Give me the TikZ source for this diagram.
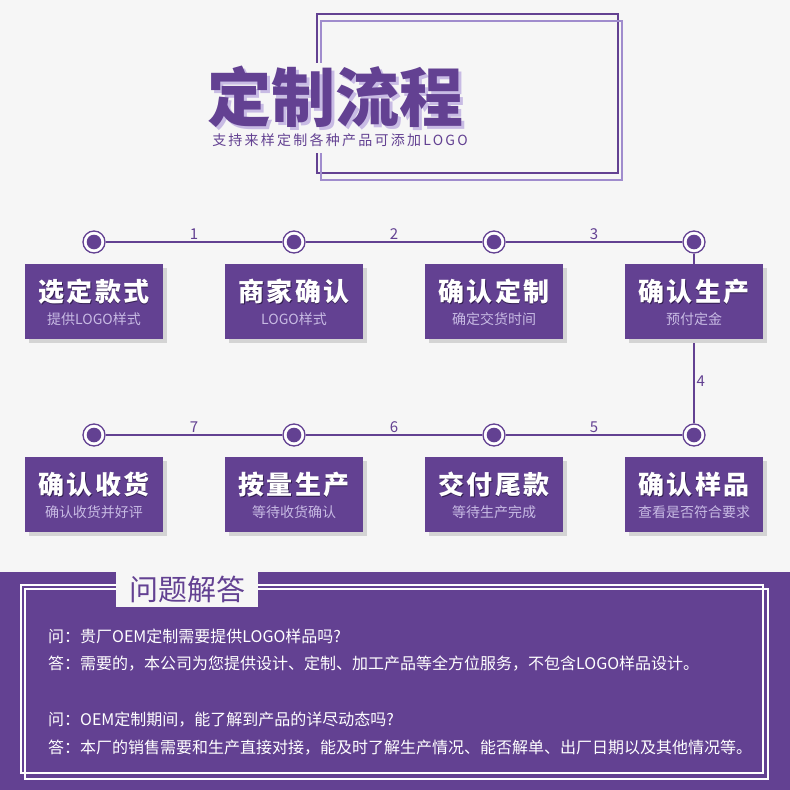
\documentclass[tikz,border=0pt]{standalone}
\usepackage{fontspec}
\setmainfont{Noto Sans CJK SC}
\usetikzlibrary{positioning,shadows}
\definecolor{pfPurple}{RGB}{99,65,146}
\definecolor{pfLight}{RGB}{160,140,205}
\definecolor{pfLilac}{RGB}{200,187,228}
\definecolor{pfPaper}{RGB}{246,246,246}
\definecolor{pfShade}{RGB}{50,30,80}
\tikzset{
  pfDot/.style={circle, draw=pfPurple, line width=1.3pt, fill=white,
                minimum size=22pt, inner sep=0pt,
                path picture={\fill[pfPurple] (path picture bounding box.center) circle (7.3pt);}},
  pfLine/.style={draw=pfPurple, line width=1.3pt},
  pfNum/.style={font=\fontsize{15}{15}\selectfont, text=pfPurple, inner sep=2pt},
  pfBox/.style={rectangle, fill=pfPurple, minimum width=138pt, minimum height=75pt,
                inner sep=0pt,
                drop shadow={shadow xshift=4pt, shadow yshift=-4pt, fill=black!17, opacity=1}},
  pfHead/.style={font=\fontsize{26}{26}\selectfont\bfseries\addfontfeature{LetterSpace=8},
                 text=white, inner sep=0pt},
  pfSub/.style={font=\fontsize{14}{14}\selectfont, text=pfLilac, inner sep=0pt},
  pfQa/.style={font=\fontsize{16}{16}\selectfont, text=white, anchor=west, inner sep=0pt}
}
\newcommand{\pfStep}[4]{%
  \node[pfBox, below=10pt of #2] (#1) {};
  \node[pfHead, text=pfShade] (#1hs) at ([xshift=0.8pt,yshift=8.6pt]#1.center) {#3};
  \node[pfHead] (#1h) at ([yshift=10pt]#1.center) {#3};
  \node[pfSub] (#1s) at ([yshift=-17.5pt]#1.center) {#4};
}

\begin{document}
\begin{tikzpicture}[x=1pt, y=-1pt]
  \useasboundingbox (0,0) rectangle (790,790);
  \fill[pfPaper] (0,0) rectangle (790,790);
  \fill[pfPurple] (0,572) rectangle (790,790);

  % header
  \draw[pfPurple, line width=1.3pt] (317,14) rectangle (618,173);
  \draw[pfLight, line width=1.3pt] (321,21) rectangle (622,180);
  \fill[pfPaper] (200,63) rectangle (475,153);
  \node[font=\fontsize{64}{64}\selectfont\bfseries, text=pfLilac, inner sep=0pt] (titles) at (338.5,99.5) {定制流程};
  \node[font=\fontsize{64}{64}\selectfont\bfseries, text=pfPurple, inner sep=0pt] (title) at (335.5,96.5) {定制流程};
  \node[font=\fontsize{14}{14}\selectfont\addfontfeature{LetterSpace=16}, text=pfPurple, inner sep=0pt] (subtitle) at (340,140) {支持来样定制各种产品可添加LOGO};

  % timeline
  \node[pfDot] (d1) at (94,242) {};
  \node[pfDot] (d2) at (294,242) {};
  \node[pfDot] (d3) at (494,242) {};
  \node[pfDot] (d4) at (694,242) {};
  \node[pfDot] (d5) at (694,435) {};
  \node[pfDot] (d6) at (494,435) {};
  \node[pfDot] (d7) at (294,435) {};
  \node[pfDot] (d8) at (94,435) {};
  \draw[pfLine] (d1) -- node[pfNum, above] (n1) {1} (d2);
  \draw[pfLine] (d2) -- node[pfNum, above] (n2) {2} (d3);
  \draw[pfLine] (d3) -- node[pfNum, above] (n3) {3} (d4);
  \draw[pfLine] (d4) -- node[pfNum, right, pos=0.75] (n4) {4} (d5);
  \draw[pfLine] (d5) -- node[pfNum, above] (n5) {5} (d6);
  \draw[pfLine] (d6) -- node[pfNum, above] (n6) {6} (d7);
  \draw[pfLine] (d7) -- node[pfNum, above] (n7) {7} (d8);

  % steps
  \pfStep{s1}{d1}{选定款式}{提供LOGO样式}
  \pfStep{s2}{d2}{商家确认}{LOGO样式}
  \pfStep{s3}{d3}{确认定制}{确定交货时间}
  \pfStep{s4}{d4}{确认生产}{预付定金}
  \pfStep{s5}{d5}{确认样品}{查看是否符合要求}
  \pfStep{s6}{d6}{交付尾款}{等待生产完成}
  \pfStep{s7}{d7}{按量生产}{等待收货确认}
  \pfStep{s8}{d8}{确认收货}{确认收货并好评}

  % questions
  \draw[white, line width=1.2pt] (21,585) rectangle (763,773);
  \draw[white, line width=1.2pt] (25,589) rectangle (768,779);
  \node[fill=pfPaper, minimum width=142pt, minimum height=35pt, inner sep=0pt,
        font=\fontsize{29}{29}\selectfont, text=pfPurple] (qa) at (187,589.5) {问题解答};
  \node[pfQa] (q1) at (48,636) {问：贵厂OEM定制需要提供LOGO样品吗?};
  \node[pfQa] (a1) at (48,664) {答：需要的，本公司为您提供设计、定制、加工产品等全方位服务，不包含LOGO样品设计。};
  \node[pfQa] (q2) at (48,720) {问：OEM定制期间，能了解到产品的详尽动态吗?};
  \node[pfQa] (a2) at (48,748) {答：本厂的销售需要和生产直接对接，能及时了解生产情况、能否解单、出厂日期以及其他情况等。};
\end{tikzpicture}
\end{document}
